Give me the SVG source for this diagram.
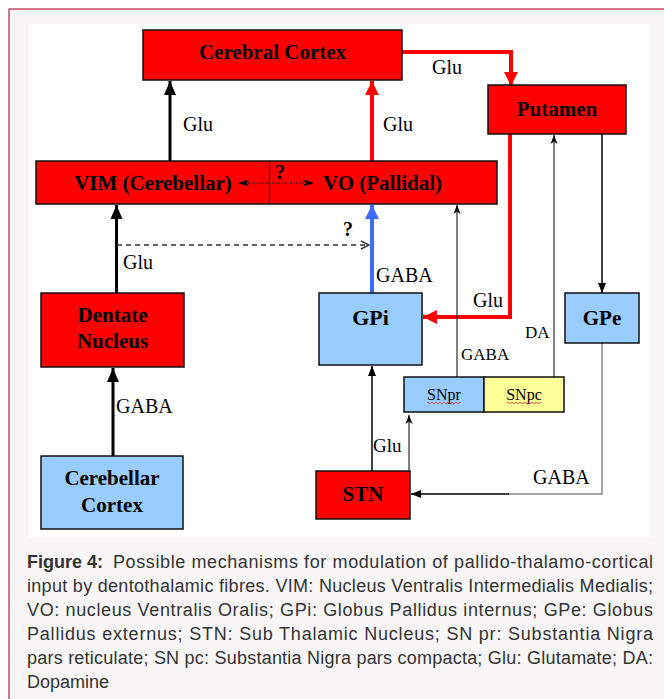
<svg xmlns="http://www.w3.org/2000/svg" width="664" height="699" viewBox="0 0 664 699">
<defs>
<style>
.node{stroke:#111;stroke-width:1.5}
.red{fill:#ff0000}
.blue{fill:#99ccff}
.yellow{fill:#ffff99}
.nl{font-family:"Liberation Serif","Times New Roman",serif;font-weight:bold;font-size:21px;fill:#000;text-anchor:middle}
.cl{font-family:"Liberation Serif","Times New Roman",serif;font-size:20px;fill:#000}
.cap{font-family:"Liberation Sans",Arial,sans-serif;font-size:18px;fill:#333}
.c{fill:none}
</style>
<marker id="ahB" markerUnits="userSpaceOnUse" markerWidth="14" markerHeight="14" viewBox="0 0 14 14" refX="14" refY="7" orient="auto"><path d="M0,1 L14,7 L0,13 z" fill="#000"/></marker>
<marker id="ahR" markerUnits="userSpaceOnUse" markerWidth="14" markerHeight="16" viewBox="0 0 14 16" refX="14" refY="8" orient="auto"><path d="M0,1 L14,8 L0,15 z" fill="#ff0000"/></marker>
<marker id="ahBl" markerUnits="userSpaceOnUse" markerWidth="14" markerHeight="16" viewBox="0 0 14 16" refX="14" refY="8" orient="auto"><path d="M0,1 L14,8 L0,15 z" fill="#3d6bff"/></marker>
<marker id="ahT" markerUnits="userSpaceOnUse" markerWidth="10" markerHeight="10" viewBox="0 0 10 10" refX="10" refY="5" orient="auto"><path d="M0,1 L10,5 L0,9 z" fill="#000"/></marker>
<marker id="ahS" markerUnits="userSpaceOnUse" markerWidth="9" markerHeight="8" viewBox="0 0 9 8" refX="9" refY="4" orient="auto"><path d="M0,0.5 L9,4 L0,7.5 L2.5,4 z" fill="#000"/></marker>
<marker id="ahO" markerUnits="userSpaceOnUse" markerWidth="10" markerHeight="10" viewBox="0 0 10 10" refX="9" refY="5" orient="auto"><path d="M1,1 L9,5 L1,9" fill="none" stroke="#333" stroke-width="1.5"/></marker>
</defs>

<rect x="0" y="0" width="664" height="699" fill="#ffffff"/>
<rect x="9" y="9" width="660" height="695" fill="#f8f6f7" stroke="#b0244a" stroke-width="1.2"/>
<rect x="29" y="24" width="621" height="514" fill="#ffffff"/>

<g id="connectors">
  <line class="c" x1="170" y1="161" x2="170" y2="81" stroke="#000" stroke-width="3" marker-end="url(#ahB)"/>
  <text class="cl" x="183" y="131">Glu</text>
  <line class="c" x1="372" y1="161" x2="372" y2="81" stroke="#ff0000" stroke-width="4" marker-end="url(#ahR)"/>
  <text class="cl" x="383" y="131">Glu</text>
  <polyline class="c" points="402,52 511,52 511,86" stroke="#ff0000" stroke-width="4" marker-end="url(#ahR)"/>
  <text class="cl" x="432" y="74">Glu</text>
  <polyline class="c" points="510,134 510,317 423,317" stroke="#ff0000" stroke-width="4" marker-end="url(#ahR)"/>
  <text class="cl" x="473" y="307">Glu</text>
  <line class="c" x1="602" y1="134" x2="602" y2="293" stroke="#000" stroke-width="1.5" marker-end="url(#ahT)"/>
  <line class="c" x1="554" y1="377" x2="554" y2="135" stroke="#000" stroke-width="1" marker-end="url(#ahS)"/>
  <text class="cl" x="525" y="338" style="font-size:17px">DA</text>
  <line class="c" x1="457" y1="377" x2="457" y2="205" stroke="#000" stroke-width="1" marker-end="url(#ahS)"/>
  <text class="cl" x="461" y="360" style="font-size:17px">GABA</text>
  <line class="c" x1="372" y1="293" x2="372" y2="205" stroke="#3d6bff" stroke-width="4" marker-end="url(#ahBl)"/>
  <text class="cl" x="376" y="282">GABA</text>
  <line class="c" x1="116.5" y1="293" x2="116.5" y2="205" stroke="#000" stroke-width="3" marker-end="url(#ahB)"/>
  <text class="cl" x="123" y="269">Glu</text>
  <line class="c" x1="117" y1="245" x2="369" y2="245" stroke="#333" stroke-width="1.5" stroke-dasharray="5,4" marker-end="url(#ahO)"/>
  <text class="cl" x="343" y="236" style="font-weight:bold">?</text>
  <line class="c" x1="113" y1="456" x2="113" y2="368" stroke="#000" stroke-width="3" marker-end="url(#ahB)"/>
  <text class="cl" x="116" y="413">GABA</text>
  <line class="c" x1="372" y1="471" x2="372" y2="366" stroke="#000" stroke-width="1.5" marker-end="url(#ahT)"/>
  <text class="cl" x="373" y="452" style="font-size:19px">Glu</text>
  <line class="c" x1="409" y1="471" x2="409" y2="415" stroke="#000" stroke-width="1" marker-end="url(#ahS)"/>
  <polyline class="c" points="602,343 602,494 508,494" stroke="#888" stroke-width="1.5"/>
  <line class="c" x1="509" y1="494" x2="411" y2="494" stroke="#000" stroke-width="1.5" marker-end="url(#ahT)"/>
  <text class="cl" x="533" y="484">GABA</text>
</g>

<g id="cerebral-cortex">
  <rect class="node red" x="143" y="30" width="259" height="50"/>
  <text class="nl" x="272.5" y="59">Cerebral Cortex</text>
</g>
<g id="putamen">
  <rect class="node red" x="488" y="85" width="138" height="49"/>
  <text class="nl" x="557" y="116">Putamen</text>
</g>
<g id="vim-vo">
  <rect class="node red" x="36" y="161" width="461" height="43"/>
  <line x1="269.5" y1="161" x2="269.5" y2="204" stroke="#111" stroke-width="1.2"/>
  <text class="nl" x="153" y="190">VIM (Cerebellar)</text>
  <text class="nl" x="382.5" y="190">VO (Pallidal)</text>
</g>
<g id="vim-vo-link">
  <line x1="245" y1="183" x2="307" y2="183" stroke="#000" stroke-width="1.2" stroke-dasharray="1.5,1.5"/>
  <path d="M238,183 L249,179.5 L246.5,183 L249,186.5 z" fill="#000"/>
  <path d="M314,183 L303,179.5 L305.5,183 L303,186.5 z" fill="#000"/>
  <text class="cl" x="280" y="179" style="font-weight:bold;text-anchor:middle">?</text>
</g>
<g id="dentate-nucleus">
  <rect class="node red" x="41" y="293" width="143" height="74"/>
  <text class="nl" x="112.5" y="322">Dentate</text>
  <text class="nl" x="112.5" y="348">Nucleus</text>
</g>
<g id="gpi">
  <rect class="node blue" x="319" y="293" width="103" height="72"/>
  <text class="nl" x="370.5" y="325" style="font-size:22px">GPi</text>
</g>
<g id="gpe">
  <rect class="node blue" x="565" y="293" width="74" height="50"/>
  <text class="nl" x="602" y="325">GPe</text>
</g>
<g id="snpr">
  <rect class="node blue" x="404" y="377" width="80" height="35"/>
  <text class="cl" x="444" y="400" style="font-size:16px;text-anchor:middle">SNpr</text>
  <path d="M427,403 q1,-1.5 2,0 t2,0 t2,0 t2,0 t2,0 t2,0 t2,0 t2,0 t2,0 t2,0 t2,0 t2,0 t2,0 t2,0 t2,0 t2,0 t2,0" fill="none" stroke="#e03030" stroke-width="0.8"/>
</g>
<g id="snpc">
  <rect class="node yellow" x="484" y="377" width="80" height="35"/>
  <text class="cl" x="524" y="400" style="font-size:16px;text-anchor:middle">SNpc</text>
  <path d="M507,403 q1,-1.5 2,0 t2,0 t2,0 t2,0 t2,0 t2,0 t2,0 t2,0 t2,0 t2,0 t2,0 t2,0 t2,0 t2,0 t2,0 t2,0 t2,0" fill="none" stroke="#e03030" stroke-width="0.8"/>
</g>
<g id="stn">
  <rect class="node red" x="316" y="471" width="94" height="48"/>
  <text class="nl" x="363" y="501">STN</text>
</g>
<g id="cerebellar-cortex">
  <rect class="node blue" x="41" y="456" width="142" height="73"/>
  <text class="nl" x="112" y="485">Cerebellar</text>
  <text class="nl" x="112" y="512">Cortex</text>
</g>

<g id="caption">
  <text class="cap" x="27" y="568" style="font-weight:bold">Figure 4:</text>
  <text class="cap" x="113" y="568" textLength="540" lengthAdjust="spacing">Possible mechanisms for modulation of pallido-thalamo-cortical</text>
  <text class="cap" x="27" y="592" textLength="626" lengthAdjust="spacing">input by dentothalamic fibres. VIM: Nucleus Ventralis Intermedialis Medialis;</text>
  <text class="cap" x="27" y="616" textLength="626" lengthAdjust="spacing">VO: nucleus Ventralis Oralis; GPi: Globus Pallidus internus; GPe: Globus</text>
  <text class="cap" x="27" y="640" textLength="626" lengthAdjust="spacing">Pallidus externus; STN: Sub Thalamic Nucleus; SN pr: Substantia Nigra</text>
  <text class="cap" x="27" y="664" textLength="626" lengthAdjust="spacing">pars reticulate; SN pc: Substantia Nigra pars compacta; Glu: Glutamate; DA:</text>
  <text class="cap" x="27" y="688">Dopamine</text>
</g>
</svg>
